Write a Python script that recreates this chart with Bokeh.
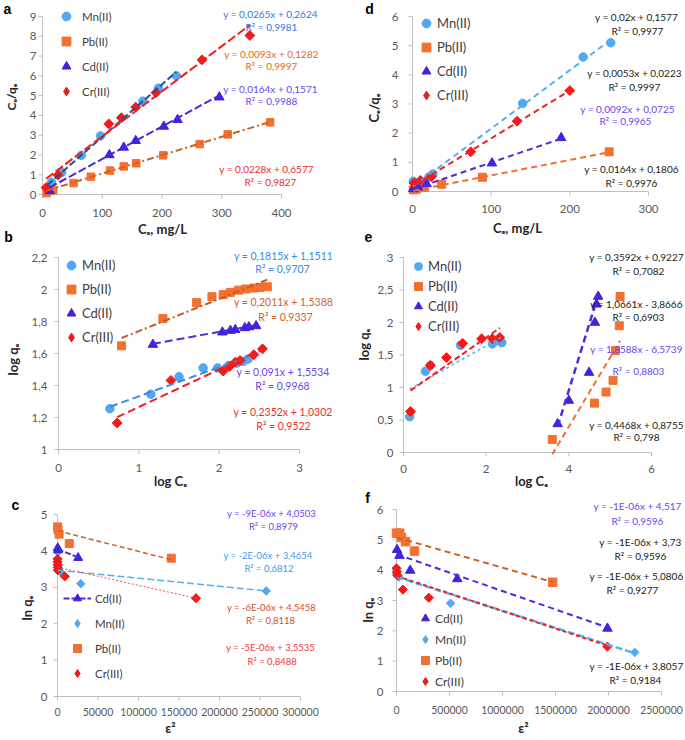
import math
import numpy as np
from bokeh.plotting import figure
from bokeh.models import Range1d, Label, Legend, LegendItem
from bokeh.core.properties import value
from bokeh.layouts import column, row
from bokeh.embed import file_html
from bokeh.resources import INLINE

# ---------------------------------------------------------------- data
metals = ["Mn(II)", "Pb(II)", "Cd(II)", "Cr(III)"]

# panel a : Ce vs Ce/qe
a_xticks = [0, 100, 200, 300, 400]
a_xtick_labels = ["0", "100", "200", "300", "400"]
a_yticks = [0, 1, 2, 3, 4, 5, 6, 7, 8, 9]
a_ytick_labels = ["0", "1", "2", "3", "4", "5", "6", "7", "8", "9"]
a_mn_x = [8, 15, 32, 65, 97, 168, 194, 224]
a_mn_y = [0.30, 0.62, 1.12, 1.98, 2.96, 4.72, 5.38, 6.00]
a_pb_x = [7, 18, 52, 81, 113, 136, 157, 202, 263, 310, 381]
a_pb_y = [0.07, 0.22, 0.58, 0.90, 1.21, 1.42, 1.58, 1.98, 2.55, 3.04, 3.65]
a_cd_x = [12, 112, 136, 156, 203, 226, 296]
a_cd_y = [0.18, 2.00, 2.38, 2.72, 3.44, 3.78, 4.92]
a_cr_x = [6, 26, 111, 132, 156, 190, 267, 347]
a_cr_y = [0.35, 0.98, 3.57, 3.88, 4.42, 5.15, 6.81, 8.04]
a_fit = {"mn": (0.0265, 0.2624), "pb": (0.0093, 0.1282),
         "cd": (0.0164, 0.1571), "cr": (0.0228, 0.6577)}
a_eq = ["y = 0,0265x + 0,2624", "y = 0,0093x + 0,1282",
        "y = 0,0164x + 0,1571", "y = 0,0228x + 0,6577"]
a_r2 = ["R² = 0,9981", "R² = 0,9997", "R² = 0,9988", "R² = 0,9827"]

# panel d : Ce vs Ce/qe
d_xticks = [0, 100, 200, 300]
d_xtick_labels = ["0", "100", "200", "300"]
d_yticks = [0, 1, 2, 3, 4, 5, 6]
d_ytick_labels = ["0", "1", "2", "3", "4", "5", "6"]
d_mn_x = [1, 21, 26, 140, 217, 252]
d_mn_y = [0.35, 0.50, 0.60, 3.02, 4.61, 5.10]
d_pb_x = [1, 5, 15, 37, 89, 250]
d_pb_y = [0.06, 0.08, 0.14, 0.25, 0.49, 1.36]
d_cd_x = [1, 7, 18, 101, 189]
d_cd_y = [0.09, 0.15, 0.26, 0.97, 1.84]
d_cr_x = [2, 10, 24, 74, 133, 200]
d_cr_y = [0.29, 0.38, 0.51, 1.36, 2.41, 3.46]
d_fit = {"mn": (0.02, 0.1577), "pb": (0.0053, 0.0223),
         "cd": (0.0092, 0.0725), "cr": (0.0164, 0.1806)}
d_eq = ["y = 0,02x + 0,1577", "y = 0,0053x + 0,0223",
        "y = 0,0092x + 0,0725", "y = 0,0164x + 0,1806"]
d_r2 = ["R² = 0,9977", "R² = 0,9997", "R² = 0,9965", "R² = 0,9976"]

# panel b : log Ce vs log qe
b_xticks = [0, 1, 2, 3]
b_xtick_labels = ["0", "1", "2", "3"]
b_yticks = [1, 1.2, 1.4, 1.6, 1.8, 2, 2.2]
b_ytick_labels = ["1", "1,2", "1,4", "1,6", "1,8", "2", "2,2"]
b_mn_x = [0.64, 1.15, 1.50, 1.80, 1.98, 2.12, 2.22, 2.30, 2.36]
b_mn_y = [1.255, 1.345, 1.455, 1.51, 1.51, 1.525, 1.54, 1.55, 1.565]
b_pb_x = [0.785, 1.30, 1.72, 1.91, 2.05, 2.14, 2.24, 2.33, 2.43, 2.51, 2.60]
b_pb_y = [1.648, 1.818, 1.918, 1.955, 1.968, 1.982, 1.996, 2.003, 2.009, 2.013, 2.017]
b_cd_x = [1.175, 2.04, 2.14, 2.20, 2.32, 2.37, 2.46]
b_cd_y = [1.656, 1.733, 1.743, 1.748, 1.76, 1.765, 1.772]
b_cr_x = [0.73, 1.40, 2.05, 2.13, 2.20, 2.26, 2.43, 2.54]
b_cr_y = [1.166, 1.432, 1.49, 1.519, 1.546, 1.556, 1.592, 1.629]
b_fit = {"mn": (0.1815, 1.1511), "pb": (0.2011, 1.5388),
         "cd": (0.091, 1.5534), "cr": (0.2352, 1.0302)}
b_eq = ["y = 0,1815x + 1,1511", "y = 0,2011x + 1,5388",
        "y = 0,091x + 1,5534", "y = 0,2352x + 1,0302"]
b_r2 = ["R² = 0,9707", "R² = 0,9337", "R² = 0,9968", "R² = 0,9522"]

# panel e : log Ce vs log qe
e_xticks = [0, 2, 4, 6]
e_xtick_labels = ["0", "2", "4", "6"]
e_yticks = [0, 0.5, 1, 1.5, 2, 2.5, 3]
e_ytick_labels = ["0", "0,5", "1", "1,5", "2", "2,5", "3"]
e_mn_x = [0.15, 0.53, 0.65, 1.38, 2.15, 2.30, 2.38]
e_mn_y = [0.55, 1.25, 1.34, 1.65, 1.67, 1.72, 1.69]
e_pb_x = [3.60, 4.62, 4.90, 5.07, 5.13, 5.22, 5.24]
e_pb_y = [0.20, 0.76, 0.93, 1.11, 1.57, 1.95, 2.40]
e_cd_x = [3.73, 4.00, 4.49, 4.63, 4.67, 4.71]
e_cd_y = [0.44, 0.80, 1.23, 2.00, 2.28, 2.40]
e_cr_x = [0.17, 0.65, 1.04, 1.43, 1.89, 2.15, 2.33]
e_cr_y = [0.63, 1.34, 1.46, 1.68, 1.75, 1.75, 1.77]
e_fit = {"mn": (0.3592, 0.9227), "pb": (1.0661, -3.8666), "cr": (0.4468, 0.8755)}
e_cd_line = [0.40, 2.42]
e_eq = ["y = 0,3592x + 0,9227", "y = 1,0661x - 3,8666",
        "y = 1,8588x - 6,5739", "y = 0,4468x + 0,8755"]
e_r2 = ["R² = 0,7082", "R² = 0,6903", "R² = 0,8803", "R² = 0,798"]

# panel c : eps^2 vs ln qe
c_xticks = [0, 50000, 100000, 150000, 200000, 250000, 300000]
c_xtick_labels = ["0", "50000", "100000", "150000", "200000", "250000", "300000"]
c_yticks = [0, 1, 2, 3, 4, 5]
c_ytick_labels = ["0", "1", "2", "3", "4", "5"]
c_pb_x = [200, 600, 2000, 14500, 140500]
c_pb_y = [4.66, 4.58, 4.46, 4.20, 3.80]
c_cd_x = [300, 800, 25500]
c_cd_y = [4.08, 4.02, 3.81]
c_mn_x = [200, 3700, 28800, 257700]
c_mn_y = [3.97, 3.42, 3.10, 2.90]
c_cr_x = [100, 150, 200, 300, 400, 9000, 171000]
c_cr_y = [3.78, 3.70, 3.62, 3.55, 3.47, 3.30, 2.70]
c_line = {"pb": [4.55, 3.76], "cd": [4.05, 3.82], "mn": [3.47, 2.90], "cr": [3.55, 2.70]}
c_eq = ["y = -9E-06x + 4,0503", "y = -2E-06x + 3,4654",
        "y = -6E-06x + 4,5458", "y = -5E-06x + 3,5535"]
c_r2 = ["R² = 0,8979", "R² = 0,6812", "R² = 0,8118", "R² = 0,8488"]

# panel f : eps^2 vs ln qe
f_xticks = [0, 500000, 1000000, 1500000, 2000000, 2500000]
f_xtick_labels = ["0", "500000", "1000000", "1500000", "2000000", "2500000"]
f_yticks = [0, 1, 2, 3, 4, 5, 6]
f_ytick_labels = ["0", "1", "2", "3", "4", "5", "6"]
f_pb_x = [0, 30000, 47000, 85000, 170000, 1473000]
f_pb_y = [5.22, 5.22, 5.08, 4.94, 4.63, 3.60]
f_cd_x = [5000, 28000, 129000, 573000, 1990000]
f_cd_y = [4.67, 4.48, 3.99, 3.71, 2.08]
f_mn_x = [0, 22000, 510000, 2248000]
f_mn_y = [3.88, 3.77, 2.91, 1.29]
f_cr_x = [0, 3000, 8000, 60000, 305000, 1990000]
f_cr_y = [4.06, 3.95, 3.83, 3.36, 3.09, 1.48]
f_line = {"pb": [5.08, 3.61], "cd": [4.52, 2.11], "mn": [3.78, 1.26], "cr": [3.81, 1.51]}
f_eq = ["y = -1E-06x + 4,517", "y = -1E-06x + 3,73",
        "y = -1E-06x + 5,0806", "y = -1E-06x + 3,8057"]
f_r2 = ["R² = 0,9596", "R² = 0,9596", "R² = 0,9277", "R² = 0,9184"]

# ---------------------------------------------------------------- style
MN, PB, CD, CR = "#52A8F0", "#F27030", "#3E22DE", "#F21A1A"
MN2 = "#4DAAF0"
BLK = "#1A1A1A"
VIO = "#6A48EE"
AXC = "#BFBFBF"
TICKC = "#595959"
TITLEC = "#262626"
FONT = "Lato"


class Panel:
    """One chart panel; the plotting frame covers the whole canvas and the
    scales are set so that the axis origin and maxima sit at given pixels."""

    def __init__(self, box, axes, xr, yr):
        bx0, by0, bx1, by1 = box
        L, R, T, B = axes
        self.box = box
        self.L, self.R, self.T, self.B = L, R, T, B
        self.xr, self.yr = xr, yr
        self.sx = (xr[1] - xr[0]) / (R - L)
        self.sy = (yr[1] - yr[0]) / (B - T)
        p = figure(width=bx1 - bx0, height=by1 - by0,
                   x_range=Range1d(xr[0] - (L - bx0) * self.sx, xr[1] + (bx1 - R) * self.sx),
                   y_range=Range1d(yr[0] - (by1 - B) * self.sy, yr[1] + (T - by0) * self.sy),
                   x_axis_location=None, y_axis_location=None,
                   min_border=0, output_backend="svg", toolbar_location=None)
        p.outline_line_color = None
        p.grid.visible = False
        p.background_fill_color = "white"
        p.border_fill_color = "white"
        self.p = p

    def d(self, px, py):
        return (self.xr[0] + (px - self.L) * self.sx,
                self.yr[0] + (self.B - py) * self.sy)

    def axes(self, xticks, xlabels, yticks, ylabels, xtitle, ytitle,
             xlab_dy, ylab_dx, xtitle_pos, ytitle_start, xfs="11.5px", yfs="11.5px",
             ytfs="13px"):
        p = self.p
        x0, x1 = self.xr
        y0, y1 = self.yr
        n, m = len(yticks), len(xticks)
        # axis lines
        p.line([x0, x0], [y0, y1], line_color=AXC, line_width=1)
        p.line([x0, x1], [y0, y0], line_color=AXC, line_width=1)
        # outside tick marks (4 px)
        p.segment(x0=[x0 - 4 * self.sx] * n, y0=yticks, x1=[x0] * n, y1=yticks,
                  line_color=AXC, line_width=1)
        p.segment(x0=xticks, y0=[y0] * m, x1=xticks, y1=[y0 - 4 * self.sy] * m,
                  line_color=AXC, line_width=1)
        # tick labels
        p.text(x=[x0] * n, y=yticks, text=ylabels, x_offset=-ylab_dx,
               text_align="right", text_baseline="middle",
               text_font=value(FONT), text_font_size=yfs, text_color=TICKC)
        p.text(x=xticks, y=[y0] * m, text=xlabels, y_offset=xlab_dy,
               text_align="center", text_baseline="middle",
               text_font=value(FONT), text_font_size=xfs, text_color=TICKC)
        # axis titles (vertical one anchored at its lower end, reading upwards)
        self.text(xtitle_pos[0], xtitle_pos[1], xtitle, TITLEC, "13px", bold=True)
        tx, ty = self.d(*ytitle_start)
        p.text(x=[tx], y=[ty], text=[ytitle], angle=math.pi / 2,
               text_align="left", text_baseline="middle",
               text_font=value(FONT), text_font_size=ytfs, text_font_style="bold",
               text_color=TITLEC)

    def pts(self, xs, ys, marker, color, size):
        if marker == "diamond":
            return self.p.scatter(xs, ys, marker="square", angle=math.pi / 4, size=size,
                                  fill_color=color, line_color=color)
        return self.p.scatter(xs, ys, marker=marker, size=size,
                              fill_color=color, line_color=color)

    def dummy(self, marker, color):
        return self.p.scatter(np.array([np.nan]), np.array([np.nan]), marker=marker,
                              fill_color=color, line_color=color)

    def trend(self, xs, color, dash, width, fit=None, ends=None):
        x0, x1 = min(xs), max(xs)
        if fit is not None:
            m, b = fit
            ys = [m * x0 + b, m * x1 + b]
        else:
            ys = list(ends)
        return self.p.line([x0, x1], ys, line_color=color, line_dash=dash,
                           line_width=width)

    def legend(self, entries, cx, cy, gw, gh, spacing, standoff, size):
        n = len(entries)
        h = n * gh + (n - 1) * spacing
        lx = cx - gw / 2
        ly = cy - gh / 2
        leg = Legend(items=[LegendItem(label=t, renderers=r) for t, r in entries],
                     location=(lx - self.box[0], self.box[3] - (ly + h)),
                     orientation="vertical", padding=0, margin=0, spacing=spacing,
                     glyph_width=gw, glyph_height=gh, label_height=gh,
                     label_standoff=standoff, border_line_color=None,
                     background_fill_alpha=0, label_text_font=FONT,
                     label_text_font_size=size, label_text_color="#404040",
                     label_text_baseline="middle")
        self.p.add_layout(leg)

    def text(self, px, py, s, color, size, bold=False, font=FONT):
        x, y = self.d(px, py)
        self.p.add_layout(Label(x=x, y=y, text=s, text_color=color, text_font=font,
                                text_font_size=size,
                                text_font_style="bold" if bold else "normal",
                                text_align="center", text_baseline="middle"))

    def eq(self, px, py, px2, py2, e, r, color, size):
        self.text(px, py, e, color, size)
        self.text(px2, py2, r, color, size)

    def letter(self, px, py, s):
        self.text(px, py, s, "#000000", "14px", bold=True, font="Liberation Sans")


# ---------------------------------------------------------------- panel a
A = Panel((0, 0, 340, 244), (42, 281, 16, 194), (0, 400), (0, 9))
A.axes(a_xticks, a_xtick_labels, a_yticks, a_ytick_labels, "Cₑ, mg/L", "Cₑ/qₑ",
       18.5, 6, (162, 228), (11, 110), ytfs="12px")
ra_mn = A.pts(a_mn_x, a_mn_y, "circle", MN, 8.5)
ra_pb = A.pts(a_pb_x, a_pb_y, "square", PB, 7.5)
ra_cd = A.pts(a_cd_x, a_cd_y, "triangle", CD, 9.5)
ra_cr = A.pts(a_cr_x, a_cr_y, "diamond", CR, 7)
A.trend(a_mn_x, "#24508F", "7 3", 2, fit=a_fit["mn"])
A.trend(a_pb_x, "#D2601E", "7 3 2 3", 2, fit=a_fit["pb"])
A.trend(a_cd_x, "#4A2AD8", "8 3", 2, fit=a_fit["cd"])
A.trend(a_cr_x, "#F02020", "9 3", 2, fit=a_fit["cr"])
A.legend([(metals[0], [ra_mn]), (metals[1], [ra_pb]), (metals[2], [ra_cd]),
          (metals[3], [A.dummy("diamond", CR)])], 66, 16, 22, 22, 3, 5, "11.5px")
A.eq(270, 13.3, 271, 26.7, a_eq[0], a_r2[0], "#2E78E6", "10px")
A.eq(271, 53.3, 271, 65.7, a_eq[1], a_r2[1], "#E06A26", "10px")
A.eq(270, 88.3, 271, 100.7, a_eq[2], a_r2[2], VIO, "10px")
A.eq(266, 168.3, 270, 181.7, a_eq[3], a_r2[3], "#F02A2A", "10px")
A.letter(7, 8, "a")
A.letter(8, 236, "b")

# ---------------------------------------------------------------- panel d
D = Panel((340, 0, 685, 244), (412, 648, 16, 191), (0, 300), (0, 6))
D.axes(d_xticks, d_xtick_labels, d_yticks, d_ytick_labels, "Cₑ, mg/L", "Cₑ/qₑ",
       17.5, 14, (517, 227), (373, 122))
rd_mn = D.pts(d_mn_x, d_mn_y, "circle", MN, 8.5)
rd_pb = D.pts(d_pb_x, d_pb_y, "square", PB, 8)
rd_cd = D.pts(d_cd_x, d_cd_y, "triangle", CD, 9.5)
rd_cr = D.pts(d_cr_x, d_cr_y, "diamond", CR, 7)
D.trend(d_mn_x, "#55B0F0", "6 4", 2, fit=d_fit["mn"])
D.trend(d_pb_x, "#F07030", "6 4", 2, fit=d_fit["pb"])
D.trend(d_cd_x, "#4A2CE0", "6 4", 2, fit=d_fit["cd"])
D.trend(d_cr_x, "#F02020", "6 4", 2, fit=d_fit["cr"])
D.legend([(metals[0], [rd_mn]), (metals[1], [rd_pb]), (metals[2], [rd_cd]),
          (metals[3], [D.dummy("diamond", CR)])], 426, 23, 22, 22, 2, -4, "13px")
D.eq(636, 16.7, 637, 30.7, d_eq[0], d_r2[0], BLK, "10px")
D.eq(634, 72.7, 634, 86, d_eq[1], d_r2[1], BLK, "10px")
D.eq(627, 108.3, 625, 120, d_eq[2], d_r2[2], VIO, "10px")
D.eq(631, 168.3, 631, 182.7, d_eq[3], d_r2[3], BLK, "10px")
D.letter(369, 8, "d")
D.letter(368, 236, "e")

# ---------------------------------------------------------------- panel b
Bp = Panel((0, 244, 340, 488), (58, 299, 257, 449), (0, 3), (1, 2.2))
Bp.axes(b_xticks, b_xtick_labels, b_yticks, b_ytick_labels, "log Cₑ", "log qₑ",
        18, 11, (170, 480), (12, 375))
rb_mn = Bp.pts(b_mn_x, b_mn_y, "circle", MN, 8.5)
rb_pb = Bp.pts(b_pb_x, b_pb_y, "square", PB, 8)
rb_cd = Bp.pts(b_cd_x, b_cd_y, "triangle", CD, 9.5)
rb_cr = Bp.pts(b_cr_x, b_cr_y, "diamond", CR, 7)
Bp.trend(b_mn_x, "#3A8CE6", "8 4", 2, fit=b_fit["mn"])
Bp.trend(b_pb_x, "#C85A1E", "7 3 2 3", 2, fit=b_fit["pb"])
Bp.trend(b_cd_x, "#4C2CE0", "8 4", 2, fit=b_fit["cd"])
Bp.trend(b_cr_x, "#F02020", "8 4", 2, fit=b_fit["cr"])
Bp.legend([(metals[0], [rb_mn]), (metals[1], [rb_pb]), (metals[2], [rb_cd]),
           (metals[3], [Bp.dummy("diamond", CR)])], 71, 265, 22, 22, 2, -5, "13px")
Bp.eq(283, 255, 282, 268.3, b_eq[0], b_r2[0], "#3A8CE8", "10.5px")
Bp.eq(283, 301.7, 285, 316, b_eq[1], b_r2[1], "#D2622A", "10.5px")
Bp.eq(282.5, 371.7, 282, 385.7, b_eq[2], b_r2[2], VIO, "10.5px")
Bp.eq(282.5, 411.7, 283, 425, b_eq[3], b_r2[3], "#F02A2A", "10.5px")

# ---------------------------------------------------------------- panel e
E = Panel((340, 244, 685, 488), (403, 651, 257, 452), (0, 6), (0, 3))
E.axes(e_xticks, e_xtick_labels, e_yticks, e_ytick_labels, "log Cₑ", "log qₑ",
       16, 10, (531, 480), (363, 360))
re_mn = E.pts(e_mn_x, e_mn_y, "circle", MN, 8.5)
re_pb = E.pts(e_pb_x, e_pb_y, "square", PB, 8)
re_cd = E.pts(e_cd_x, e_cd_y, "triangle", CD, 9.5)
re_cr = E.pts(e_cr_x, e_cr_y, "diamond", CR, 7)
E.trend(e_mn_x, "#55B0F0", "3 3", 1.5, fit=e_fit["mn"])
E.trend(e_cr_x, "#F02020", "6 3", 2, fit=e_fit["cr"])
E.trend(e_cd_x, "#4A2CE0", "7 4", 2.5, ends=e_cd_line)
E.trend(e_pb_x, "#F07030", "6 4", 2, fit=e_fit["pb"])
E.legend([(metals[0], [re_mn]), (metals[1], [re_pb]), (metals[2], [re_cd]),
          (metals[3], [E.dummy("diamond", CR)])], 418, 266, 20, 20, 0, -4, "13px")
E.eq(636, 256.7, 638, 270.7, e_eq[0], e_r2[0], BLK, "10px")
E.eq(636, 303.3, 638, 316, e_eq[1], e_r2[1], BLK, "10px")
E.eq(636, 348.3, 638, 370.7, e_eq[2], e_r2[2], VIO, "10px")
E.eq(636, 424, 636, 436.7, e_eq[3], e_r2[3], BLK, "10px")

# ---------------------------------------------------------------- panel c
C = Panel((0, 488, 340, 740), (57, 300, 514, 696), (0, 300000), (0, 5))
C.axes(c_xticks, c_xtick_labels, c_yticks, c_ytick_labels, "ε²", "ln qₑ",
       15, 10, (170, 727), (26, 620), xfs="10.5px")
rc_pb = C.pts(c_pb_x, c_pb_y, "square", PB, 8)
rc_mn = C.pts(c_mn_x, c_mn_y, "diamond", MN2, 6)
rc_cd = C.pts(c_cd_x, c_cd_y, "triangle", CD, 9)
rc_cr = C.pts(c_cr_x, c_cr_y, "diamond", CR, 6.5)
C.trend(c_pb_x, "#D0601E", "5 3", 1.5, ends=c_line["pb"])
lc_cd = C.trend(c_cd_x, "#4A2CE0", "6 2", 2, ends=c_line["cd"])
C.trend(c_mn_x, "#55B0F0", "7 3", 1.5, ends=c_line["mn"])
C.trend(c_cr_x, "#F05050", "2 2", 1, ends=c_line["cr"])
C.legend([(metals[2], [lc_cd, rc_cd]), (metals[0], [C.dummy("diamond", MN2)]),
          (metals[1], [rc_pb]), (metals[3], [C.dummy("diamond", CR)])],
         77, 598, 28, 20, 5, 4, "11.5px")
C.eq(271, 513.3, 273, 526, c_eq[0], c_r2[0], VIO, "9.5px")
C.eq(267.5, 555, 268.5, 567.7, c_eq[1], c_r2[1], "#3C9CEC", "9.5px")
C.eq(271, 607.3, 270, 620, c_eq[2], c_r2[2], "#D0502A", "9.5px")
C.eq(270, 647.3, 271.7, 661, c_eq[3], c_r2[3], "#F03A3A", "9.5px")
C.letter(15, 504, "c")

# ---------------------------------------------------------------- panel f
F = Panel((340, 488, 685, 740), (396, 661, 509, 691), (0, 2500000), (0, 6))
F.axes(f_xticks, f_xtick_labels, f_yticks, f_ytick_labels, "ε²", "ln qₑ",
       18.5, 13, (523, 727), (367, 622), xfs="10.5px")
rf_pb = F.pts(f_pb_x, f_pb_y, "square", PB, 8.5)
rf_cd = F.pts(f_cd_x, f_cd_y, "triangle", CD, 9.5)
rf_mn = F.pts(f_mn_x, f_mn_y, "diamond", MN2, 6)
rf_cr = F.pts(f_cr_x, f_cr_y, "diamond", CR, 6.5)
F.trend(f_pb_x, "#D0601E", "6 4", 2, ends=f_line["pb"])
F.trend(f_cd_x, "#4A2CE0", "6 4", 2, ends=f_line["cd"])
F.trend(f_mn_x, "#55B0F0", "7 3", 2.5, ends=f_line["mn"])
F.trend(f_cr_x, "#F02020", "4 3", 2, ends=f_line["cr"])
F.legend([(metals[2], [rf_cd]), (metals[0], [F.dummy("diamond", MN2)]),
          (metals[1], [rf_pb]), (metals[3], [F.dummy("diamond", CR)])],
         425, 618, 20, 20, 1, -4, "12px")
F.eq(637, 505.7, 637, 520.7, f_eq[0], f_r2[0], VIO, "10px")
F.eq(640, 541, 640, 555, f_eq[1], f_r2[1], BLK, "10px")
F.eq(636, 575, 632, 589.3, f_eq[2], f_r2[2], BLK, "10px")
F.eq(636, 665, 635, 679.3, f_eq[3], f_r2[3], BLK, "10px")
F.letter(367, 497, "f")

layout = column(row(A.p, D.p), row(Bp.p, E.p), row(C.p, F.p))
open("out.html", "w").write(file_html(layout, INLINE))
